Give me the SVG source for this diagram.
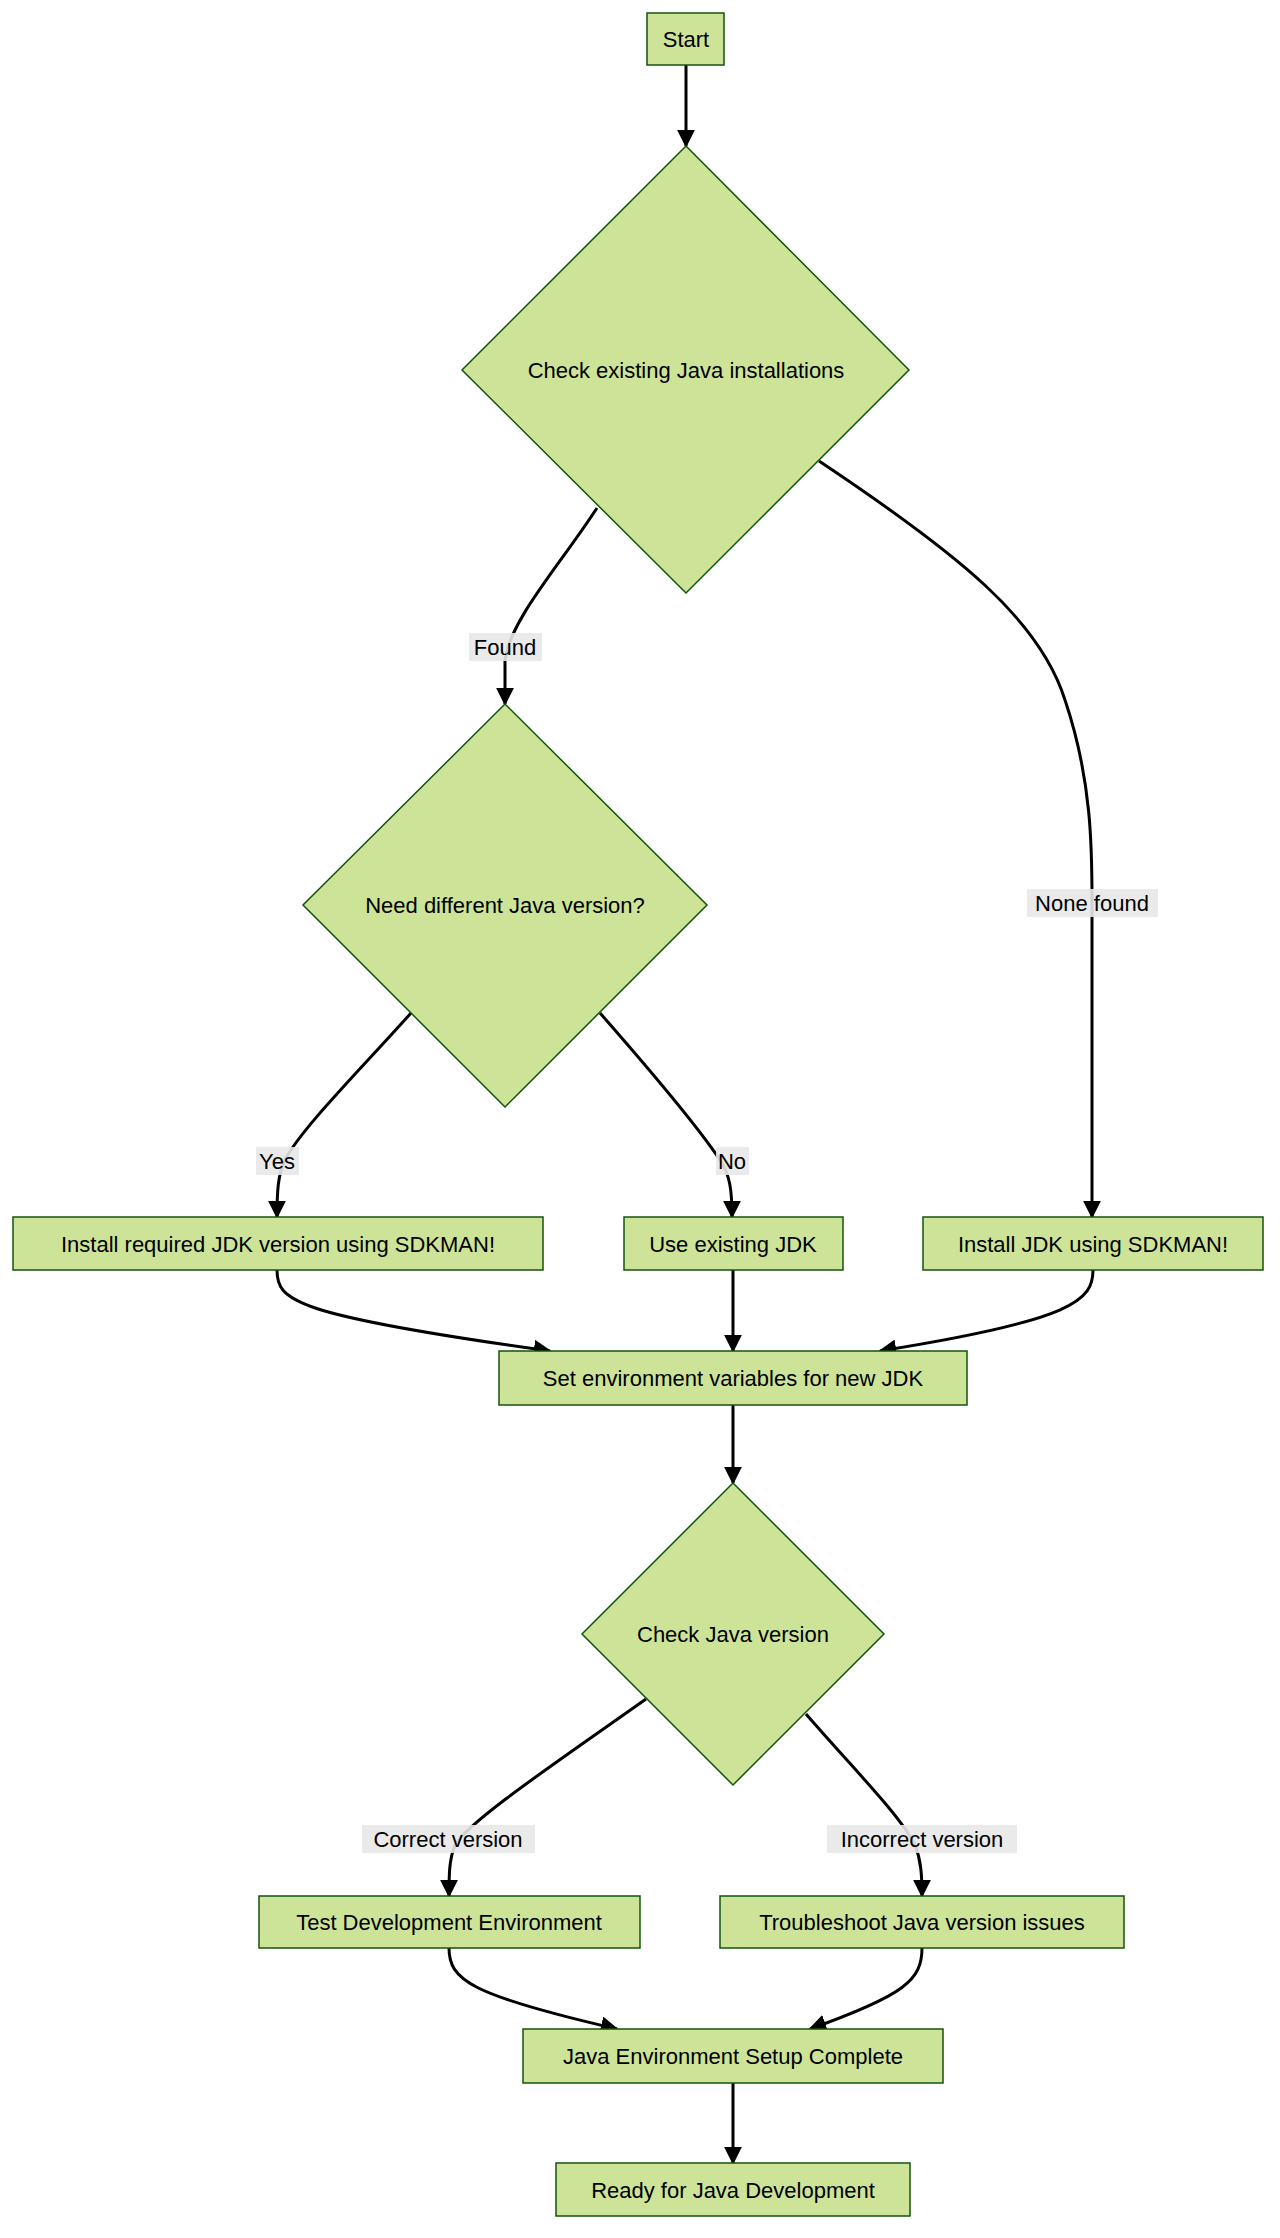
<svg xmlns="http://www.w3.org/2000/svg" width="1280" height="2238" viewBox="0 0 1280 2238">
<style>
.n{fill:#cde498;stroke:#13540c;stroke-width:1.5}
.t{font-family:"Liberation Sans",Arial,sans-serif;font-size:22px;fill:#000;text-anchor:middle;dominant-baseline:central}
.e{fill:none;stroke:#000;stroke-width:3}
.lb{fill:#e8e8e8;opacity:0.9}
</style>
<defs><marker id="a" viewBox="0 0 10 10" refX="9" refY="5" markerWidth="6" markerHeight="6" orient="auto" markerUnits="strokeWidth"><path d="M0,0L10,5L0,10z" fill="#000"/></marker></defs>
<rect width="1280" height="2238" fill="#fff"/>
<g id="edges">
<path class="e" marker-end="url(#a)" d="M686,65L686,146"/>
<path class="e" marker-end="url(#a)" d="M597,508C560,565 510,620 505,660L505,704"/>
<path class="e" marker-end="url(#a)" d="M819,461C960,555 1040,620 1065,700C1092,780 1092,850 1092,900L1092,1217"/>
<path class="e" marker-end="url(#a)" d="M411,1013C360,1070 300,1130 285,1160C278,1175 277,1190 277,1217"/>
<path class="e" marker-end="url(#a)" d="M600,1013C650,1070 700,1130 720,1160C730,1175 732,1190 732,1217"/>
<path class="e" marker-end="url(#a)" d="M277,1270C277,1300 290,1315 550,1351"/>
<path class="e" marker-end="url(#a)" d="M733,1270L733,1351"/>
<path class="e" marker-end="url(#a)" d="M1093,1270C1093,1300 1075,1320 880,1351"/>
<path class="e" marker-end="url(#a)" d="M733,1405L733,1483"/>
<path class="e" marker-end="url(#a)" d="M646,1699C560,1760 470,1820 455,1845C449,1860 449,1875 449,1896"/>
<path class="e" marker-end="url(#a)" d="M806,1714C850,1765 900,1815 915,1845C921,1860 922,1875 922,1896"/>
<path class="e" marker-end="url(#a)" d="M449,1948C449,1980 470,1995 617,2029"/>
<path class="e" marker-end="url(#a)" d="M922,1948C922,1980 905,1995 810,2029"/>
<path class="e" marker-end="url(#a)" d="M733,2083L733,2163"/>
<rect class="lb" x="469" y="633" width="73" height="28"/><text class="t" x="505" y="647">Found</text>
<rect class="lb" x="1027" y="889" width="131" height="28"/><text class="t" x="1092" y="903">None found</text>
<rect class="lb" x="256" y="1147" width="43" height="28"/><text class="t" x="277" y="1161">Yes</text>
<rect class="lb" x="716" y="1147" width="33" height="28"/><text class="t" x="732" y="1161">No</text>
<rect class="lb" x="362" y="1825" width="173" height="28"/><text class="t" x="448" y="1839">Correct version</text>
<rect class="lb" x="827" y="1825" width="190" height="28"/><text class="t" x="922" y="1839">Incorrect version</text>
</g>
<g id="start"><rect class="n" x="647" y="13" width="77" height="52"/><text class="t" x="686" y="39">Start</text></g>
<g id="check"><polygon class="n" points="686,146 909,370 686,593 462,370"/><text class="t" x="686" y="370">Check existing Java installations</text></g>
<g id="need"><polygon class="n" points="505,704 707,905 505,1107 303,905"/><text class="t" x="505" y="905">Need different Java version?</text></g>
<g id="installReq"><rect class="n" x="13" y="1217" width="530" height="53"/><text class="t" x="278" y="1244">Install required JDK version using SDKMAN!</text></g>
<g id="useExisting"><rect class="n" x="624" y="1217" width="219" height="53"/><text class="t" x="733" y="1244">Use existing JDK</text></g>
<g id="installJdk"><rect class="n" x="923" y="1217" width="340" height="53"/><text class="t" x="1093" y="1244">Install JDK using SDKMAN!</text></g>
<g id="setEnv"><rect class="n" x="499" y="1351" width="468" height="54"/><text class="t" x="733" y="1378">Set environment variables for new JDK</text></g>
<g id="checkVer"><polygon class="n" points="733,1483 884,1634 733,1785 582,1634"/><text class="t" x="733" y="1634">Check Java version</text></g>
<g id="test"><rect class="n" x="259" y="1896" width="381" height="52"/><text class="t" x="449" y="1922">Test Development Environment</text></g>
<g id="trouble"><rect class="n" x="720" y="1896" width="404" height="52"/><text class="t" x="922" y="1922">Troubleshoot Java version issues</text></g>
<g id="complete"><rect class="n" x="523" y="2029" width="420" height="54"/><text class="t" x="733" y="2056">Java Environment Setup Complete</text></g>
<g id="ready"><rect class="n" x="556" y="2163" width="354" height="53"/><text class="t" x="733" y="2190">Ready for Java Development</text></g>
</svg>
